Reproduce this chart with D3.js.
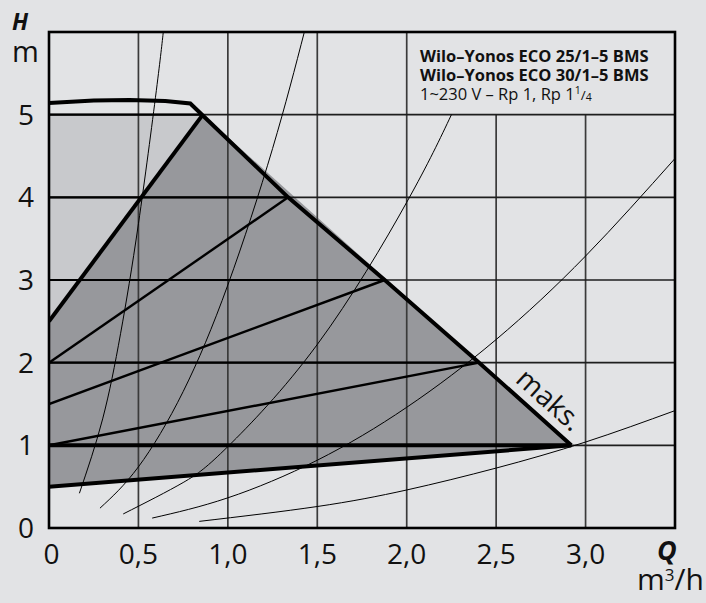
<!DOCTYPE html>
<html>
<head>
<meta charset="utf-8">
<script src="https://cdn.jsdelivr.net/npm/d3@7"></script>
<style>
  html, body { margin: 0; padding: 0; background: #e2e3e5; }
  svg { display: block; }
</style>
</head>
<body>
<div id="chart"></div>
<script>
// ---- data ----
const qTicks = [0, 0.5, 1.0, 1.5, 2.0, 2.5, 3.0];
const qLabels = ["0", "0,5", "1,0", "1,5", "2,0", "2,5", "3,0"];
const hTicks = [0, 1, 2, 3, 4, 5];
const hLabels = ["0", "1", "2", "3", "4", "5"];

// max. curve (Q m³/h, H m)
const maxCurve = [[0, 5.14], [0.25, 5.172], [0.45, 5.178], [0.65, 5.165], [0.79, 5.135], [0.86, 4.99], [1.337, 4.0], [1.877, 3.0], [2.405, 2.0], [2.92, 1.0]];
// light (constant) region
const lightRegion = [[0, 5.0], [0.86, 5.0], [0, 2.5]];
// operating (dark) region
const darkRegion = [[0, 0.5], [2.92, 1.0], [0.86, 5.0], [0, 2.5]];
// Δp-v control lines: start (0, H/2) to max line
const ctrlThick = [[[0, 2.5], [0.86, 5.0]], [[0, 1.0], [2.92, 1.0]], [[0, 0.5], [2.92, 1.0]]];
const ctrlThin = [[[0, 2.0], [1.337, 4.0]], [[0, 1.5], [1.877, 3.0]], [[0, 1.0], [2.405, 2.0]]];
// Δp-c lines inside region (horizontal)
const constLines = [[[0, 2.0], [2.405, 2.0]], [[0, 3.0], [1.877, 3.0]], [[0, 4.0], [1.337, 4.0]], [[0, 5.0], [0.86, 5.0]]];

// system curves
const sysA = [[0.17, 0.42], [0.3, 1.32], [0.4, 2.35], [0.5, 3.68], [0.6, 5.29], [0.64, 6.02]];
const sysB = [[0.285, 0.24], [0.5, 0.74], [0.75, 1.65], [1.0, 2.94], [1.25, 4.59], [1.43, 6.02]];
const sysC = [[0.415, 0.17], [0.75, 0.55], [1.0, 0.985], [1.5, 2.22], [2.0, 3.94], [2.25, 5.0]];
const sysD = [[0.577, 0.12], [1.0, 0.365], [1.5, 0.82], [2.0, 1.46], [2.5, 2.28], [3.0, 3.29], [3.5, 4.47]];
const sysE = [[0.84, 0.08], [1.5, 0.26], [2.0, 0.46], [2.5, 0.725], [3.0, 1.04], [3.5, 1.42]];
const systemCurves = [sysA, sysB, sysC, sysD, sysE];

const titleLines = ["Wilo–Yonos ECO 25/1–5 BMS", "Wilo–Yonos ECO 30/1–5 BMS"];

// ---- drawing ----
const W = 706, H = 603;
const svg = d3.select("#chart").append("svg").attr("width", W).attr("height", H);
svg.append("rect").attr("width", W).attr("height", H).attr("fill", "#e2e3e5");

const x = d3.scaleLinear().domain([0, 3.5]).range([49, 675]);
const y = d3.scaleLinear().domain([0, 6]).range([528, 32]);

const line = d3.line().x(d => x(d[0])).y(d => y(d[1]));

svg.append("defs").append("clipPath").attr("id", "plot")
  .append("rect").attr("x", x(0)).attr("y", y(6)).attr("width", x(3.5) - x(0)).attr("height", y(0) - y(6));

const g = svg.append("g").attr("clip-path", "url(#plot)");

// regions
g.append("path").attr("d", line(lightRegion) + "Z").attr("fill", "#c8c9cc");
g.append("path").attr("d", line(darkRegion) + "Z").attr("fill", "#97989c");

// grid
qTicks.filter(q => q > 0).forEach(q => {
  const top = q > 2.0 ? 5 : 6;
  g.append("line").attr("x1", x(q)).attr("x2", x(q)).attr("y1", y(0)).attr("y2", y(top))
    .attr("stroke", "#3a3a3a").attr("stroke-width", 1.7);
});
hTicks.filter(h => h > 0).forEach(h => {
  g.append("line").attr("x1", x(0)).attr("x2", x(3.5)).attr("y1", y(h)).attr("y2", y(h))
    .attr("stroke", "#1e1e1e").attr("stroke-width", 1.7);
});

// system curves
systemCurves.forEach(c => {
  g.append("path").attr("d", d3.line().x(d => x(d[0])).y(d => y(d[1])).curve(d3.curveNatural)(c))
    .attr("fill", "none").attr("stroke", "#000").attr("stroke-width", 1);
});

// control lines
constLines.forEach(c => {
  g.append("path").attr("d", line(c)).attr("fill", "none").attr("stroke", "#000").attr("stroke-width", 2.2);
});
ctrlThin.forEach(c => {
  g.append("path").attr("d", line(c)).attr("fill", "none").attr("stroke", "#000").attr("stroke-width", 2.4);
});
ctrlThick.forEach(c => {
  g.append("path").attr("d", line(c)).attr("fill", "none").attr("stroke", "#000").attr("stroke-width", 4);
});
g.append("path").attr("d", line(maxCurve)).attr("fill", "none").attr("stroke", "#000")
  .attr("stroke-width", 4).attr("stroke-linejoin", "miter");

// frame
svg.append("rect").attr("x", x(0)).attr("y", y(6)).attr("width", x(3.5) - x(0)).attr("height", y(0) - y(6))
  .attr("fill", "none").attr("stroke", "#000").attr("stroke-width", 2.6);

// tick labels
const font = "'Open Sans', 'Noto Sans', sans-serif";
hTicks.forEach((h, i) => {
  svg.append("text").attr("x", 26).attr("y", y(h) + 10).attr("text-anchor", "middle")
    .attr("font-family", font).attr("font-size", 28).attr("fill", "#111").text(hLabels[i]);
});
qTicks.forEach((q, i) => {
  svg.append("text").attr("x", i === 0 ? 51.5 : x(q)).attr("y", 563.5).attr("text-anchor", "middle")
    .attr("font-family", font).attr("font-size", 28).attr("fill", "#111").text(qLabels[i]);
});

// axis titles
svg.append("text").attr("x", 12).attr("y", 29.5).attr("font-family", font).attr("font-size", 23)
  .attr("font-weight", "bold").attr("font-style", "italic").attr("fill", "#111").text("H");
svg.append("text").attr("x", 12).attr("y", 62).attr("font-family", font).attr("font-size", 29)
  .attr("fill", "#111").text("m");
svg.append("text").attr("x", 657).attr("y", 560).attr("font-family", font).attr("font-size", 27)
  .attr("font-weight", "bold").attr("font-style", "italic").attr("fill", "#111").text("Q");
const unit = svg.append("text").attr("x", 704).attr("y", 590).attr("text-anchor", "end")
  .attr("font-family", font).attr("font-size", 30).attr("fill", "#111");
unit.append("tspan").text("m");
unit.append("tspan").attr("font-size", 17).attr("dy", -9).text("3");
unit.append("tspan").attr("dy", 9).text("/h");

// title box text
titleLines.forEach((t, i) => {
  svg.append("text").attr("x", 420).attr("y", 61.5 + i * 19).attr("font-family", font)
    .attr("font-size", 16.5).attr("font-weight", "bold").attr("fill", "#111").text(t);
});
const sub = svg.append("text").attr("x", 420).attr("y", 100).attr("font-family", font)
  .attr("font-size", 16.5).attr("fill", "#111");
sub.append("tspan").text("1~230 V – Rp 1, Rp 1");
sub.append("tspan").attr("font-size", 10.5).attr("dy", -6).text("1");
sub.append("tspan").attr("font-size", 13.5).attr("dy", 6).text("/");
sub.append("tspan").attr("font-size", 10.5).attr("dy", 1).text("4");

// "maks." label along max line
const ang = Math.atan2(y(1.0) - y(4.99), x(2.92) - x(0.86)) * 180 / Math.PI;
svg.append("text").attr("transform", `translate(543,407) rotate(${ang})`).attr("text-anchor", "middle")
  .attr("font-family", font).attr("font-size", 28).attr("fill", "#111").text("maks.");
</script>
</body>
</html>
